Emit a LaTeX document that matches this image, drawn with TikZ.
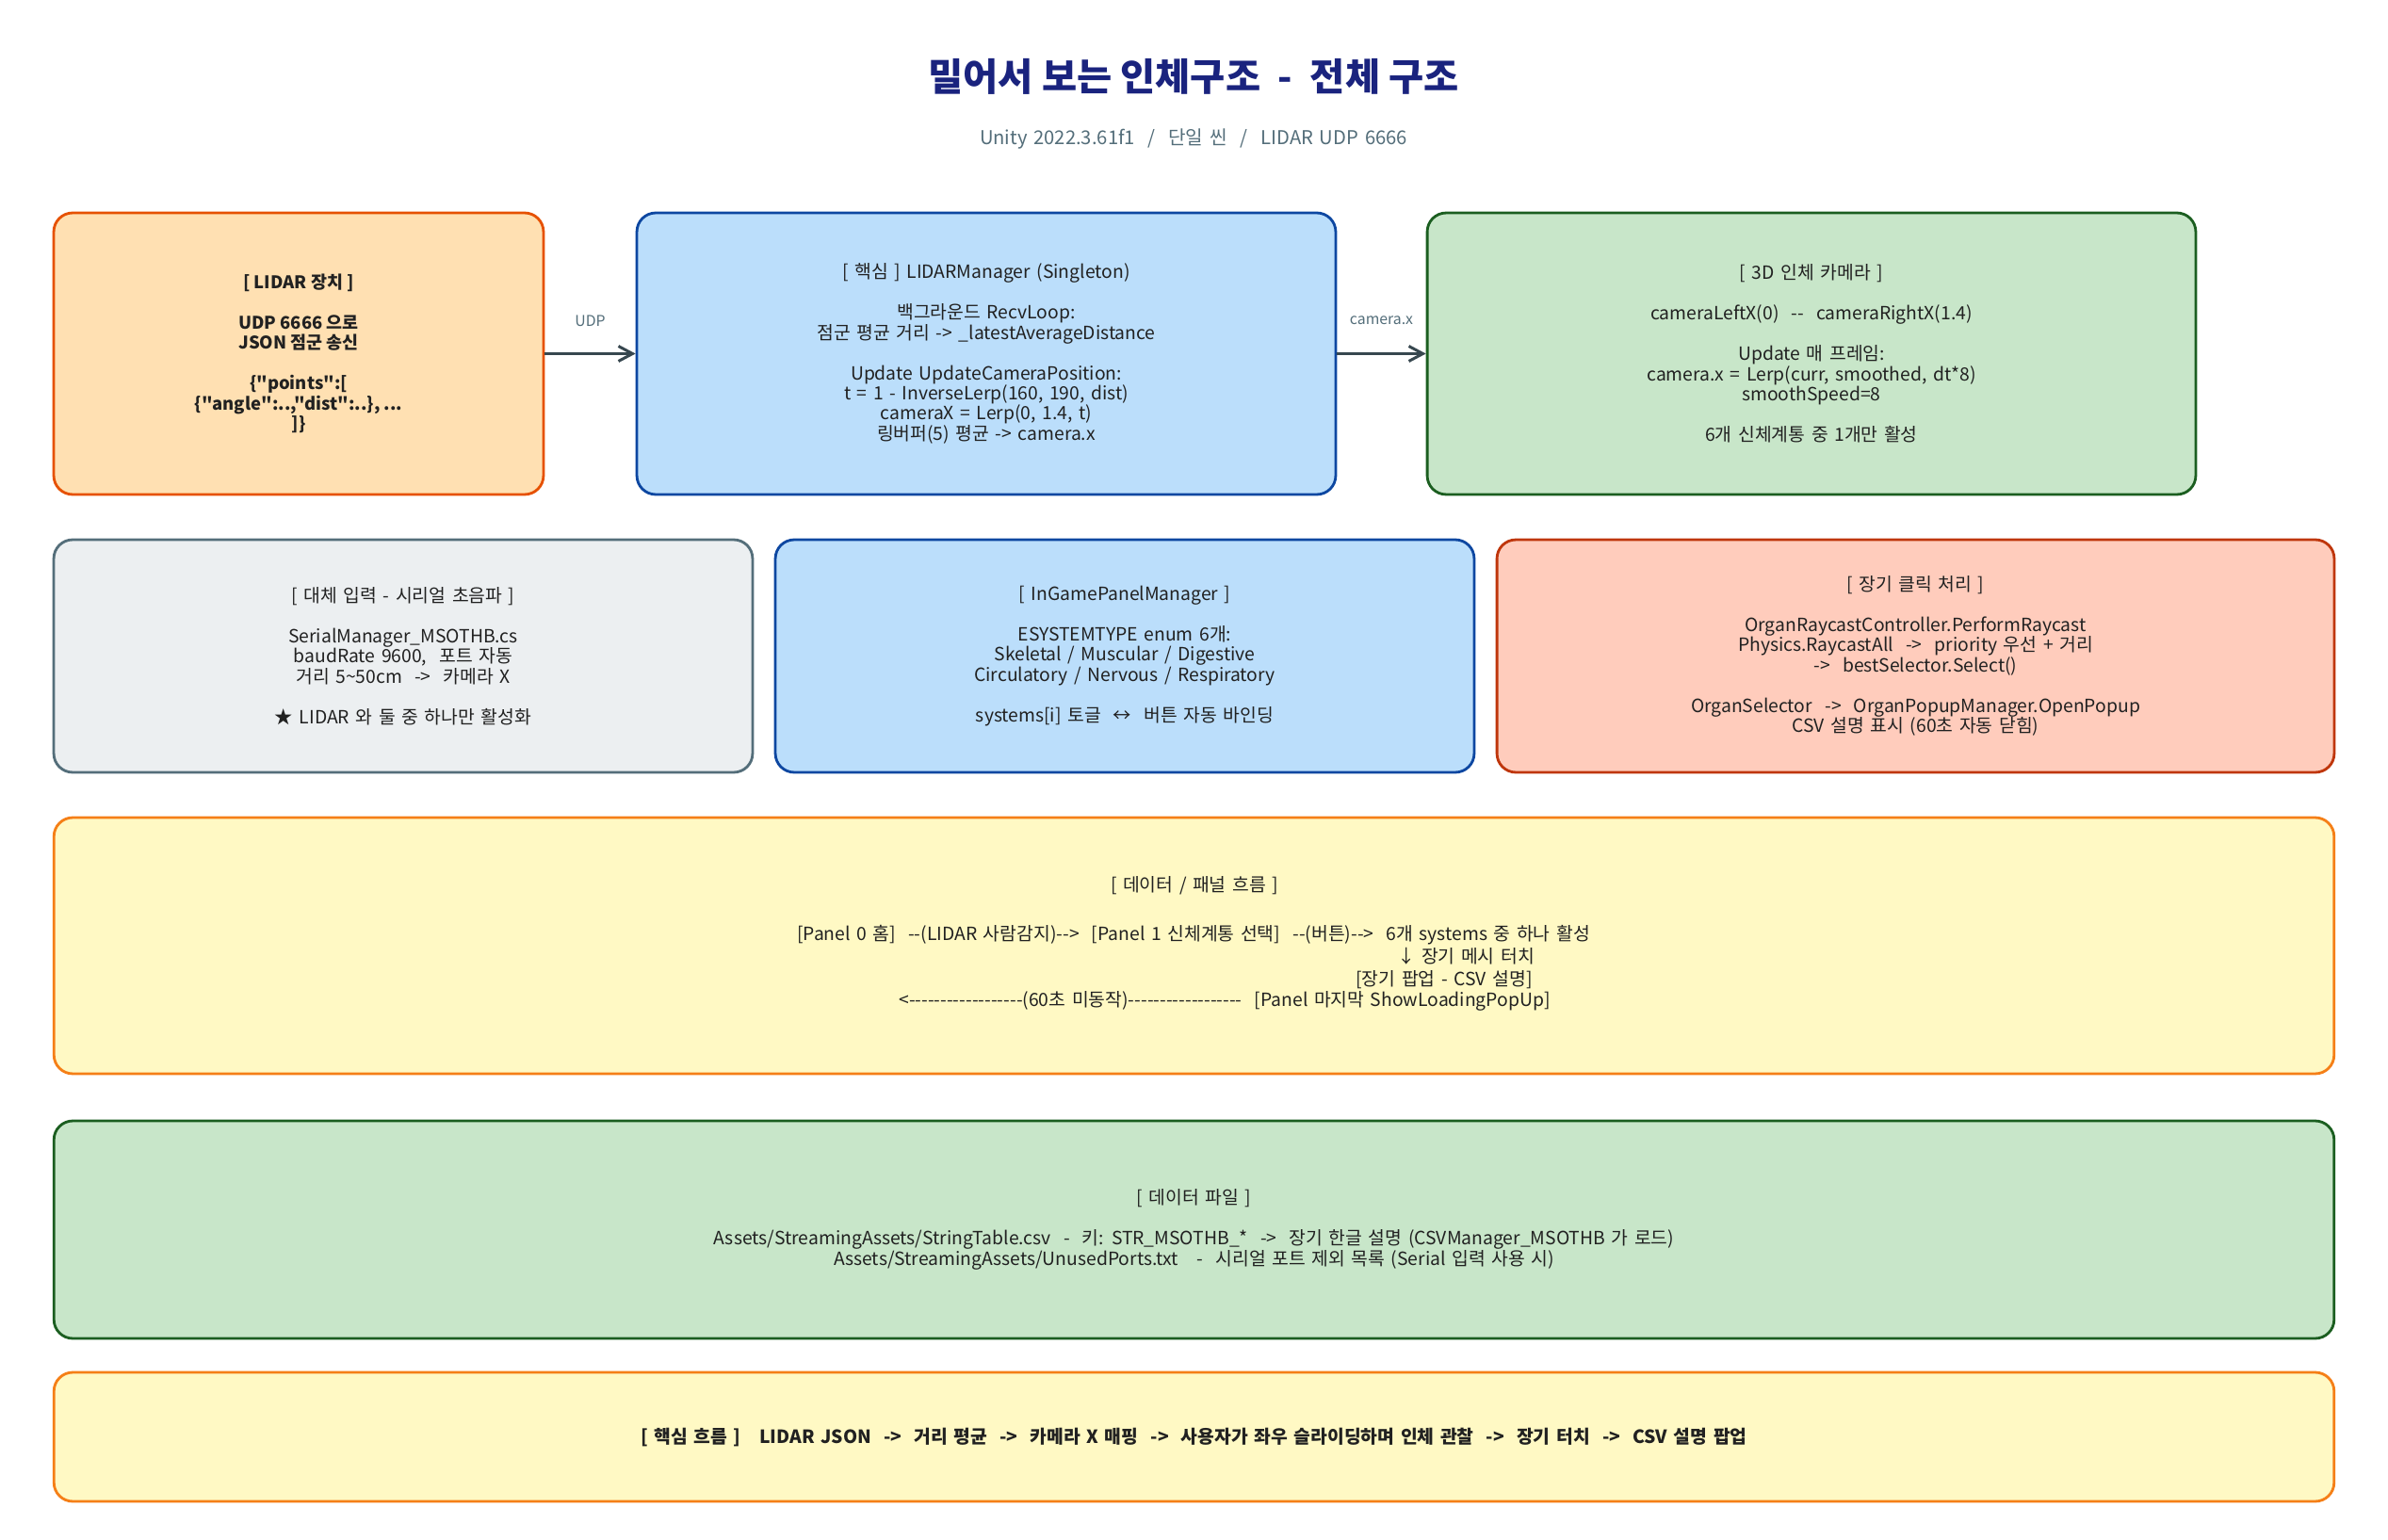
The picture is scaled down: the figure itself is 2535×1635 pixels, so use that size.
\documentclass[tikz,border=0pt]{standalone}
\usepackage{fontspec}
\setmainfont{Noto Sans CJK KR}[Ligatures=TeXOff]
\usetikzlibrary{arrows.meta}

\definecolor{titleblue}{HTML}{1A237E}
\definecolor{subgray}{HTML}{546E7A}
\definecolor{ink}{HTML}{212121}
\definecolor{arrowgray}{HTML}{37474F}
\definecolor{lidarfill}{HTML}{FFE0B2}
\definecolor{lidarline}{HTML}{E65100}
\definecolor{bluefill}{HTML}{BBDEFB}
\definecolor{blueline}{HTML}{0D47A1}
\definecolor{greenfill}{HTML}{C8E6C9}
\definecolor{greenline}{HTML}{1B5E20}
\definecolor{grayfill}{HTML}{ECEFF1}
\definecolor{grayline}{HTML}{546E7A}
\definecolor{organfill}{HTML}{FFCCBC}
\definecolor{organline}{HTML}{BF360C}
\definecolor{notefill}{HTML}{FFF9C4}
\definecolor{noteline}{HTML}{F57F17}

% wider word spaces, closer to the reference's font
\newcommand{\widespaces}{\spaceskip=0.34em plus 0.1em minus 0.05em\relax}
\newcommand{\bodyfont}{\fontsize{11}{12.2}\selectfont\widespaces}
\newcommand{\gap}{\\[12.2pt]}

\tikzset{
  card/.style={draw, rounded corners=0.4cm, line width=1.6pt, align=center,
    text=ink, inner sep=0pt, font=\bodyfont},
  flowarrow/.style={line width=1.7pt, draw=arrowgray,
    -{Straight Barb[length=0.3cm, width=0.32cm, line width=1.7pt]}},
  edgelabel/.style={text=subgray, font=\fontsize{9}{10}\selectfont},
  linetext/.style={text=ink, font=\bodyfont, inner sep=0pt}
}

\begin{document}
\begin{tikzpicture}[x=0.02cm, y=-0.02cm]
  \useasboundingbox[fill=white] (0,0) rectangle (2535,1635);

  %%%%% title %%%%%
  \node[text=titleblue, font=\fontsize{23}{26}\selectfont\bfseries] (title) at (1267,81)
    {밀어서 보는 인체구조~~-~~전체 구조};
  \node[text=subgray, font=\fontsize{11.5}{13}\selectfont\widespaces] (subtitle) at (1267,148)
    {Unity 2022.3.61f1~~/~~단일 씬~~/~~LIDAR UDP 6666};

  %%%%% row 1 %%%%%
  \node[card, fill=lidarfill, draw=lidarline, minimum width=10.4cm, minimum height=5.98cm,
    font=\fontsize{10.5}{12.2}\selectfont\bfseries] (lidar) at (317,375.5)
    {[ LIDAR 장치 ]\gap UDP 6666 으로\\JSON 점군 송신\gap
     \{"points":[\\\{"angle":..,"dist":..\}, ...\\]\}};

  \node[card, fill=bluefill, draw=blueline, minimum width=14.84cm, minimum height=5.98cm]
    (core) at (1047,375.5)
    {[ 핵심 ] LIDARManager (Singleton)\gap
     백그라운드 RecvLoop:\\점군 평균 거리 -> \_latestAverageDistance\gap
     Update UpdateCameraPosition:\\t = 1 - InverseLerp(160, 190, dist)\\
     cameraX = Lerp(0, 1.4, t)\\링버퍼(5) 평균 -> camera.x};

  \node[card, fill=greenfill, draw=greenline, minimum width=16.32cm, minimum height=5.98cm]
    (camera) at (1923,375.5)
    {[ 3D 인체 카메라 ]\gap
     cameraLeftX(0)~~--~~cameraRightX(1.4)\gap
     Update 매 프레임:\\camera.x = Lerp(curr, smoothed, dt*8)\\smoothSpeed=8\gap
     6개 신체계통 중 1개만 활성};

  \draw[flowarrow] (lidar.east) -- (core.west)
    node[edgelabel, midway, yshift=0.7cm] (udplabel) {UDP};
  \draw[flowarrow] (core.east) -- (camera.west)
    node[edgelabel, midway, yshift=0.7cm] (camlabel) {camera.x};

  %%%%% row 2 %%%%%
  \node[card, fill=grayfill, draw=grayline, minimum width=14.84cm, minimum height=4.94cm]
    (serial) at (428,696.5)
    {[ 대체 입력 - 시리얼 초음파 ]\gap
     SerialManager\_MSOTHB.cs\\baudRate 9600,~~포트 자동\\
     거리 5\textasciitilde 50cm~~->~~카메라 X\gap
     ★ LIDAR 와 둘 중 하나만 활성화};

  \node[card, fill=bluefill, draw=blueline, minimum width=14.84cm, minimum height=4.94cm]
    (ingame) at (1194,696.5)
    {[ InGamePanelManager ]\gap
     ESYSTEMTYPE enum 6개:\\Skeletal / Muscular / Digestive\\
     Circulatory / Nervous / Respiratory\gap
     systems[i] 토글~~↔~~버튼 자동 바인딩};

  \node[card, fill=organfill, draw=organline, minimum width=17.78cm, minimum height=4.94cm]
    (organ) at (2033.5,696.5)
    {[ 장기 클릭 처리 ]\gap
     OrganRaycastController.PerformRaycast\\
     Physics.RaycastAll~~->~~priority 우선 + 거리\\
     ->~~bestSelector.Select()\gap
     OrganSelector~~->~~OrganPopupManager.OpenPopup\\
     CSV 설명 표시 (60초 자동 닫힘)};

  %%%%% row 3 : panel flow %%%%%
  \node[card, fill=notefill, draw=noteline, minimum width=48.42cm, minimum height=5.44cm]
    (flow) at (1267.5,1004) {};
  \node[linetext] (flowtitle) at (1268,940) {[ 데이터 / 패널 흐름 ]};
  \node[linetext] (flowmain) at (1267,993)
    {[Panel 0 홈]~~--(LIDAR 사람감지)-->~~[Panel 1 신체계통 선택]~~--(버튼)-->~~6개 systems 중 하나 활성};
  \node[linetext] (flowtouch) at (1556,1015) {↓ 장기 메시 터치};
  \node[linetext] (flowpopup) at (1533,1040) {[장기 팝업 - CSV 설명]};
  \node[linetext] (flowback) at (1300,1063)
    {<------------------(60초 미동작)------------------~~[Panel 마지막 ShowLoadingPopUp]};

  %%%%% row 4 : data files %%%%%
  \node[card, fill=greenfill, draw=greenline, minimum width=48.42cm, minimum height=4.62cm]
    (files) at (1267.5,1305.5)
    {[ 데이터 파일 ]\gap
     Assets/StreamingAssets/StringTable.csv~~-~~키: STR\_MSOTHB\_*~~->~~장기 한글 설명 (CSVManager\_MSOTHB 가 로드)\\
     Assets/StreamingAssets/UnusedPorts.txt~~~-~~시리얼 포트 제외 목록 (Serial 입력 사용 시)};

  %%%%% row 5 : core flow %%%%%
  \node[card, fill=notefill, draw=noteline, minimum width=48.42cm, minimum height=2.74cm,
    font=\bodyfont\bfseries] (coreflow) at (1267.5,1525.5)
    {[ 핵심 흐름 ]~~~LIDAR JSON~~->~~거리 평균~~->~~카메라 X 매핑~~->~~사용자가 좌우 슬라이딩하며 인체 관찰~~->~~장기 터치~~->~~CSV 설명 팝업};
\end{tikzpicture}
\end{document}
